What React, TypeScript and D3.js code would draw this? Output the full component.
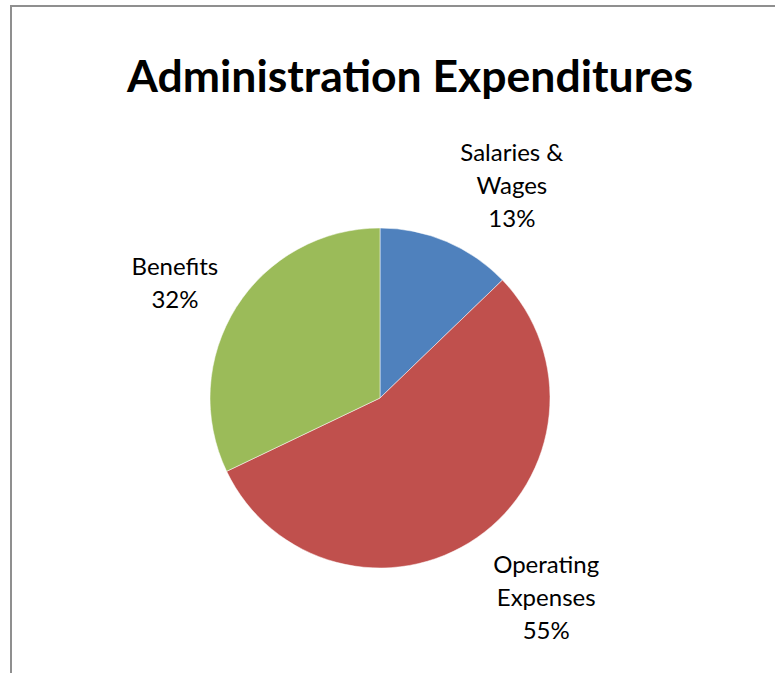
import React, { useEffect, useRef } from 'react';
import * as d3 from 'd3';

const categories = ['Salaries & Wages', 'Operating Expenses', 'Benefits'];
const values = [12.8, 55.1, 32.1];
const percentLabels = ['13%', '55%', '32%'];
const labelLines = [['Salaries &', 'Wages'], ['Operating', 'Expenses'], ['Benefits']];
const colors = ['#4F81BD', '#C0504D', '#9BBB59'];
const title = 'Administration Expenditures';

// label placement tweaks (angle nudge in deg, distance from centre) to mimic Excel's best fit
const labelNudge = [8.8, -5, -3];
const labelDist = [250, 260, 235];

const W = 775;
const H = 673;

const App = () => {
  const ref = useRef<SVGSVGElement>(null);

  useEffect(() => {
    const svg = d3.select(ref.current).attr('width', W).attr('height', H);
    svg.selectAll('*').remove();

    svg
      .append('rect')
      .attr('x', 11)
      .attr('y', 6)
      .attr('width', 820)
      .attr('height', 720)
      .attr('fill', '#fff')
      .attr('stroke', '#8f8f8f')
      .attr('stroke-width', 2);

    svg
      .append('text')
      .attr('x', 410)
      .attr('y', 92)
      .attr('text-anchor', 'middle')
      .attr('font-family', 'Lato, "Open Sans", sans-serif')
      .attr('font-weight', 'bold')
      .attr('font-size', 44.5)
      .attr('fill', '#000')
      .text(title);

    const cx = 380;
    const cy = 398;
    const r = 170;

    const pie = d3
      .pie<number>()
      .sort(null)
      .value((d) => d);
    const arcs = pie(values);
    const arc = d3.arc<d3.PieArcDatum<number>>().innerRadius(0).outerRadius(r);

    const g = svg.append('g').attr('transform', `translate(${cx},${cy})`);

    g.selectAll('path.slice')
      .data(arcs)
      .enter()
      .append('path')
      .attr('class', 'slice')
      .attr('d', arc)
      .attr('fill', (_, i) => colors[i])
      .attr('stroke', '#fff')
      .attr('stroke-width', 0.5);

    const lineH = 33;
    arcs.forEach((a, i) => {
      const mid = (a.startAngle + a.endAngle) / 2 + (labelNudge[i] * Math.PI) / 180;
      const lx = Math.sin(mid) * labelDist[i];
      const ly = -Math.cos(mid) * labelDist[i];
      const lines = [...labelLines[i], percentLabels[i]];
      const t = g
        .append('text')
        .attr('text-anchor', 'middle')
        .attr('font-family', 'Lato, "Open Sans", sans-serif')
        .attr('font-size', 24)
        .attr('fill', '#000')
        .attr('aria-label', categories[i]);
      const y0 = ly - ((lines.length - 1) * lineH) / 2 + 8;
      lines.forEach((ln, j) => {
        t.append('tspan').attr('x', lx).attr('y', y0 + j * lineH).text(ln);
      });
    });
  }, []);

  return <svg ref={ref} style={{ position: 'absolute', left: 0, top: 0 }}></svg>;
};

export default App;
